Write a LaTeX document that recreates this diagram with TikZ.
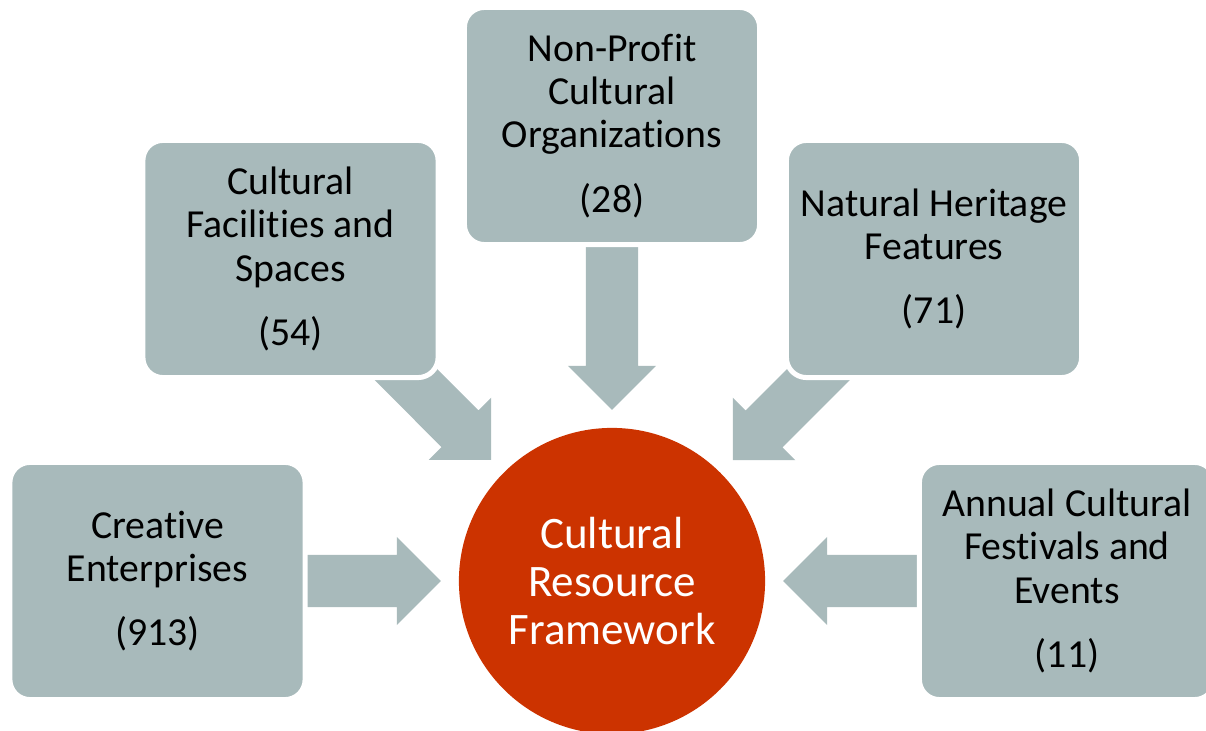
\documentclass[tikz,border=0pt]{standalone}
\usepackage{fontspec}
\setmainfont{Carlito}[Ligatures=NoCommon]
\usetikzlibrary{calc,positioning,backgrounds}
\definecolor{slate}{RGB}{168,186,187}
\definecolor{rust}{RGB}{204,51,0}

% block arrow from box #1 towards the hub #2
\newcommand{\feedarrow}[2]{%
  \coordinate (s) at ($(#1.center)!1cm!(#2.center)$);
  \coordinate (t) at ($(#2.center)!1.71cm!(#1.center)$);
  \coordinate (h) at ($(t)!0.44cm!(s)$);
  \fill[feed] ($(s)!0.26cm!90:(t)$) -- ($(h)!0.26cm!-90:(s)$) -- ($(h)!0.44cm!-90:(s)$)
    -- (t) -- ($(h)!0.44cm!90:(s)$) -- ($(h)!0.26cm!90:(s)$) -- ($(s)!0.26cm!-90:(t)$) -- cycle;}

\begin{document}
\begin{tikzpicture}[x=0.01cm,y=-0.01cm,
    source/.style={rectangle,rounded corners=0.2cm,fill=slate,draw=white,line width=0.05cm,
      minimum width=2.95cm,minimum height=2.37cm,align=center,
      font=\fontsize{11.3}{12.3}\selectfont},
    hub/.style={circle,fill=rust,minimum size=3.06cm,inner sep=0pt,align=center,
      text=white,font=\fontsize{12.8}{13.7}\selectfont},
    feed/.style={fill=slate}]
  \useasboundingbox (0,0) rectangle (1206,731);
  \clip (0,0) rectangle (1206,731);

  % the five sources
  \node[source] (nonprofit) at (612,126) {Non-Profit\\Cultural\\Organizations\\[6pt](28)};
  \node[source] (facilities) at (290.5,259) {Cultural\\Facilities and\\Spaces\\[6pt](54)};
  \node[source] (heritage) at (934,259) {Natural Heritage\\Features\\[6pt](71)};
  \node[source] (creative) at (157.5,581) {Creative\\Enterprises\\[6pt](913)};
  \node[source] (festivals) at (1067,581) {Annual Cultural\\Festivals and\\Events\\[6pt](11)};

  % the framework in the middle
  \node[hub] (framework) at (612,581) {Cultural\\Resource\\Framework};

  % arrows go behind the boxes
  \begin{pgfonlayer}{background}
    \foreach \src in {nonprofit,facilities,heritage,creative,festivals}{
      \feedarrow{\src}{framework}
    }
  \end{pgfonlayer}
\end{tikzpicture}
\end{document}
